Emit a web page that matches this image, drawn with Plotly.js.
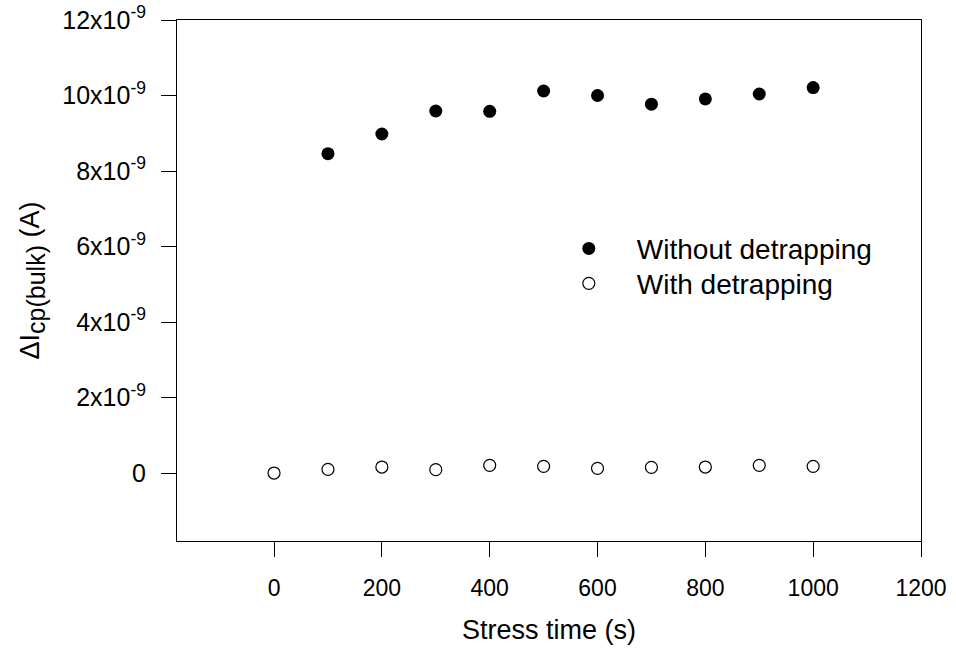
<!DOCTYPE html>
<html>
<head>
<meta charset="utf-8">
<script src="https://cdn.plot.ly/plotly-3.0.1.min.js"></script>
<style>html,body{margin:0;padding:0;background:#fff;}#chart{width:956px;height:650px;}</style>
</head>
<body>
<div id="chart"></div>
<script>
const stressTime = [0, 100, 200, 300, 400, 500, 600, 700, 800, 900, 1000];
const withoutX = [100, 200, 300, 400, 500, 600, 700, 800, 900, 1000];
const withoutDetrapping = [8.46e-9, 8.98e-9, 9.59e-9, 9.58e-9, 10.12e-9, 10.0e-9, 9.77e-9, 9.91e-9, 10.04e-9, 10.21e-9];
const withDetrapping = [0, 0.098e-9, 0.159e-9, 0.090e-9, 0.204e-9, 0.177e-9, 0.124e-9, 0.151e-9, 0.159e-9, 0.204e-9, 0.177e-9];
const yTickVals = [0, 2e-9, 4e-9, 6e-9, 8e-9, 10e-9, 12e-9];
const yTickText = ['0', '2x10<sup>-9</sup>', '4x10<sup>-9</sup>', '6x10<sup>-9</sup>', '8x10<sup>-9</sup>', '10x10<sup>-9</sup>', '12x10<sup>-9</sup>'];
const xTickVals = [0, 200, 400, 600, 800, 1000, 1200];

const font = 'Liberation Sans, Arial, sans-serif';
const traces = [
  {
    x: withoutX, y: withoutDetrapping, type: 'scatter', mode: 'markers',
    name: 'Without detrapping', legend: 'legend',
    marker: {symbol: 'circle', size: 13, color: '#000', line: {width: 0}}
  },
  {
    x: stressTime, y: withDetrapping, type: 'scatter', mode: 'markers',
    name: 'With detrapping', legend: 'legend2',
    marker: {symbol: 'circle-open', size: 12, color: '#000', line: {width: 1.2, color: '#000'}}
  }
];
const legendBase = {x: 0.489, xanchor: 'left', yanchor: 'top', bgcolor: 'rgba(0,0,0,0)',
                    font: {size: 28, family: font}, itemwidth: 86};
const layout = {
  width: 956, height: 650,
  margin: {l: 177, r: 35, t: 20, b: 109},
  paper_bgcolor: '#fff', plot_bgcolor: '#fff',
  font: {family: font, color: '#000', size: 23},
  showlegend: true,
  legend: Object.assign({}, legendBase, {y: 0.609}),
  legend2: Object.assign({}, legendBase, {y: 0.542}),
  xaxis: {
    range: [-180, 1200], tickvals: xTickVals, ticktext: xTickVals.map(String),
    ticks: 'outside', ticklen: 15, tickwidth: 1, tickcolor: '#000',
    showline: true, linecolor: '#000', linewidth: 1, mirror: true,
    showgrid: false, zeroline: false, ticklabelstandoff: 11,
    tickfont: {size: 23, family: font},
    title: {text: 'Stress time (s)', font: {size: 27, family: font}, standoff: 20}
  },
  yaxis: {
    range: [-1.8e-9, 12e-9], tickvals: yTickVals, ticktext: yTickText,
    ticks: 'outside', ticklen: 15, tickwidth: 1, tickcolor: '#000',
    showline: true, linecolor: '#000', linewidth: 1, mirror: true,
    showgrid: false, zeroline: false, ticklabelstandoff: 10,
    tickfont: {size: 25, family: font},
    title: {text: '\u0394I<sub><span style="font-size:25px">cp(bulk)</span></sub> (A)', font: {size: 27, family: font}, standoff: 14}
  }
};
Plotly.newPlot('chart', traces, layout, {displayModeBar: false, staticPlot: true});
</script>
</body>
</html>
